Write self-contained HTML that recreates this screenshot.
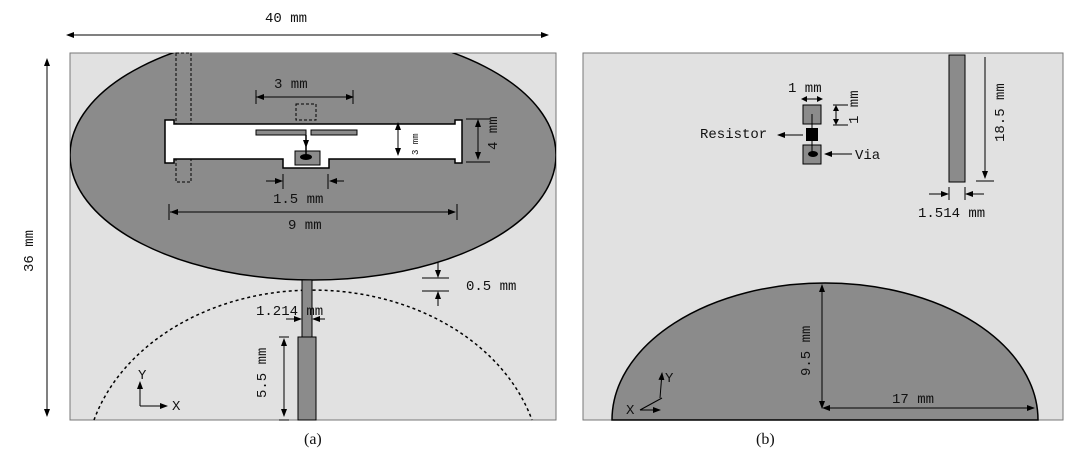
<!DOCTYPE html>
<html><head><meta charset="utf-8"><style>
html,body{margin:0;padding:0;background:#fff;width:1084px;height:462px;overflow:hidden}
svg{display:block}
text{font-family:"Liberation Mono",monospace;font-size:14px;fill:#111}
.s{font-family:"Liberation Serif",serif;font-size:16px}
</style></head><body>
<svg width="1084" height="462" viewBox="0 0 1084 462" xmlns="http://www.w3.org/2000/svg">
<defs>
<marker id="a" markerWidth="8" markerHeight="8" refX="7" refY="4" orient="auto" markerUnits="userSpaceOnUse"><path d="M0,1 L8,4 L0,7 Z" fill="#000"/></marker>
<clipPath id="ca"><rect x="70" y="53" width="486" height="367"/></clipPath>
</defs>
<rect x="70" y="53" width="486" height="367" fill="#e1e1e1" stroke="#777" stroke-width="1"/>
<g clip-path="url(#ca)">
<ellipse cx="313" cy="155" rx="243" ry="125" fill="#8b8b8b" stroke="#000" stroke-width="1.5"/>
</g>
<path d="M94,420 A228,180 0 0,1 532,420" fill="none" stroke="#000" stroke-width="1.5" stroke-dasharray="3,3"/>
<rect x="176" y="53" width="15" height="129" fill="none" stroke="#000" stroke-dasharray="3,2"/>
<path d="M165,120 L174,120 L174,124 L455,124 L455,120 L462,120 L462,163 L455,163 L455,159 L329,159 L329,168 L283,168 L283,159 L174,159 L174,163 L165,163 Z" fill="#fff" stroke="#000" stroke-width="1.5"/>
<rect x="256" y="130" width="50" height="5" fill="#8b8b8b" stroke="#000"/>
<rect x="311" y="130" width="46" height="5" fill="#8b8b8b" stroke="#000"/>
<rect x="296" y="104" width="20" height="16" fill="none" stroke="#000" stroke-dasharray="3,2"/>
<rect x="295" y="151" width="25" height="14" fill="#8b8b8b" stroke="#000"/>
<ellipse cx="306" cy="157" rx="6" ry="3" fill="#000"/>
<line x1="306" y1="135" x2="306" y2="157" stroke="#000" stroke-width="1.5"/>
<line x1="306" y1="140" x2="306" y2="147" stroke="#000" marker-end="url(#a)"/>
<rect x="302" y="280" width="10" height="57" fill="#8b8b8b" stroke="#000"/>
<rect x="298" y="337" width="18" height="83" fill="#8b8b8b" stroke="#000"/>
<line x1="72" y1="35" x2="548" y2="35" stroke="#000" marker-end="url(#a)"/>
<path d="M66,35 l8,-3 v6z" fill="#000"/>
<text x="265" y="22">40 mm</text>
<line x1="47" y1="62" x2="47" y2="416" stroke="#000" marker-end="url(#a)"/>
<path d="M47,58 l-3,8 h6z" fill="#000"/>
<text transform="translate(33,272) rotate(-90)">36 mm</text>
<line x1="256" y1="97" x2="353" y2="97" stroke="#000" marker-end="url(#a)"/><path d="M256,97 l8,-3 v6z" fill="#000"/>
<line x1="256" y1="90" x2="256" y2="104" stroke="#000"/><line x1="353" y1="90" x2="353" y2="104" stroke="#000"/>
<text x="274" y="88">3 mm</text>
<line x1="398" y1="126" x2="398" y2="155" stroke="#000" marker-end="url(#a)"/><path d="M398,122 l-3,8 h6z" fill="#000"/>
<text transform="translate(418,155) rotate(-90)" style="font-size:9px">3 mm</text>
<line x1="478" y1="122" x2="478" y2="159" stroke="#000" marker-end="url(#a)"/><path d="M478,119 l-3,8 h6z" fill="#000"/>
<line x1="466" y1="119" x2="490" y2="119" stroke="#000"/><line x1="466" y1="162" x2="490" y2="162" stroke="#000"/>
<text transform="translate(497,150) rotate(-90)">4 mm</text>
<line x1="266" y1="181" x2="282" y2="181" stroke="#000" marker-end="url(#a)"/>
<line x1="344" y1="181" x2="330" y2="181" stroke="#000" marker-end="url(#a)"/>
<line x1="283" y1="174" x2="283" y2="189" stroke="#000"/><line x1="328" y1="174" x2="328" y2="189" stroke="#000"/>
<text x="273" y="203">1.5 mm</text>
<line x1="170" y1="212" x2="455" y2="212" stroke="#000" marker-end="url(#a)"/><path d="M170,212 l8,-3 v6z" fill="#000"/>
<line x1="169" y1="204" x2="169" y2="220" stroke="#000"/><line x1="457" y1="204" x2="457" y2="220" stroke="#000"/>
<text x="288" y="229">9 mm</text>
<line x1="422" y1="278" x2="449" y2="278" stroke="#000"/><line x1="422" y1="291" x2="449" y2="291" stroke="#000"/>
<line x1="438" y1="262" x2="438" y2="277" stroke="#000" marker-end="url(#a)"/>
<line x1="438" y1="306" x2="438" y2="292" stroke="#000" marker-end="url(#a)"/>
<text x="466" y="290">0.5 mm</text>
<text x="256" y="315">1.214 mm</text>
<line x1="286" y1="319" x2="301" y2="319" stroke="#000" marker-end="url(#a)"/>
<line x1="325" y1="319" x2="313" y2="319" stroke="#000" marker-end="url(#a)"/>
<line x1="279" y1="337" x2="289" y2="337" stroke="#000"/><line x1="279" y1="420" x2="289" y2="420" stroke="#000"/>
<line x1="284" y1="342" x2="284" y2="416" stroke="#000" marker-end="url(#a)"/><path d="M284,338 l-3,8 h6z" fill="#000"/>
<text transform="translate(266,398) rotate(-90)">5.5 mm</text>
<line x1="140" y1="406" x2="140" y2="382" stroke="#000" marker-end="url(#a)"/>
<line x1="140" y1="406" x2="167" y2="406" stroke="#000" marker-end="url(#a)"/>
<text x="138" y="379">Y</text><text x="172" y="410">X</text>
<text class="s" x="304" y="444">(a)</text>
<rect x="583" y="53" width="480" height="367" fill="#e1e1e1" stroke="#777" stroke-width="1"/>
<path d="M612,420 A213,137 0 0,1 1038,420 Z" fill="#8b8b8b" stroke="#000" stroke-width="1.5"/>
<rect x="949" y="55" width="16" height="127" fill="#8b8b8b" stroke="#000"/>
<line x1="985" y1="57" x2="985" y2="178" stroke="#000" marker-end="url(#a)"/>
<line x1="976" y1="181" x2="994" y2="181" stroke="#000"/>
<text transform="translate(1004,142) rotate(-90)">18.5 mm</text>
<line x1="929" y1="194" x2="948" y2="194" stroke="#000" marker-end="url(#a)"/>
<line x1="984" y1="194" x2="966" y2="194" stroke="#000" marker-end="url(#a)"/>
<line x1="949" y1="187" x2="949" y2="200" stroke="#000"/><line x1="965" y1="187" x2="965" y2="200" stroke="#000"/>
<text x="918" y="217">1.514 mm</text>
<rect x="803" y="105" width="18" height="19" fill="#8b8b8b" stroke="#000"/>
<rect x="806" y="128" width="12" height="13" fill="#000"/>
<rect x="803" y="145" width="18" height="19" fill="#8b8b8b" stroke="#000"/>
<line x1="812" y1="114" x2="812" y2="154" stroke="#000"/>
<ellipse cx="813" cy="154" rx="5" ry="3" fill="#000"/>
<line x1="805" y1="99" x2="820" y2="99" stroke="#000"/>
<path d="M801,99 l6,-3 v6z M823,99 l-6,-3 v6z" fill="#000"/>
<text x="788" y="92">1 mm</text>
<line x1="833" y1="105" x2="848" y2="105" stroke="#000"/><line x1="833" y1="125" x2="848" y2="125" stroke="#000"/>
<line x1="836" y1="109" x2="836" y2="121" stroke="#000"/>
<path d="M836,105 l-3,6 h6z M836,125 l-3,-6 h6z" fill="#000"/>
<text transform="translate(858,124) rotate(-90)">1 mm</text>
<text x="700" y="138">Resistor</text>
<line x1="803" y1="135" x2="778" y2="135" stroke="#000" marker-end="url(#a)"/>
<line x1="852" y1="154" x2="825" y2="154" stroke="#000" marker-end="url(#a)"/>
<text x="855" y="159">Via</text>
<line x1="822" y1="287" x2="822" y2="408" stroke="#000" marker-end="url(#a)"/><path d="M822,284 l-3,8 h6z" fill="#000"/>
<text transform="translate(810,376) rotate(-90)">9.5 mm</text>
<line x1="826" y1="408" x2="1034" y2="408" stroke="#000" marker-end="url(#a)"/><path d="M822,408 l8,-3 v6z" fill="#000"/>
<text x="892" y="403">17 mm</text>
<line x1="640" y1="410" x2="662" y2="398" stroke="#000"/>
<line x1="640" y1="410" x2="660" y2="410" stroke="#000" marker-end="url(#a)"/>
<line x1="660" y1="398" x2="662" y2="373" stroke="#000" marker-end="url(#a)"/>
<text x="665" y="382">Y</text><text x="626" y="414">X</text>
<text class="s" x="756" y="444">(b)</text>
</svg>
</body></html>
